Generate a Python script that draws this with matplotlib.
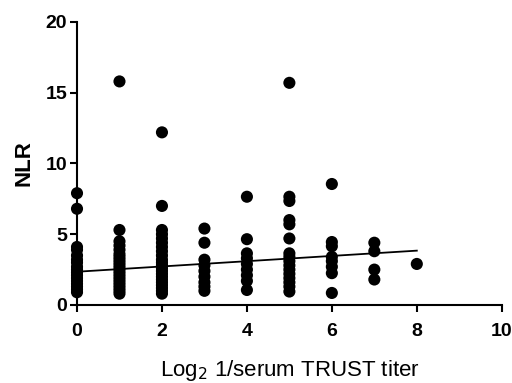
import matplotlib
matplotlib.use("Agg")
import matplotlib.pyplot as plt

plt.rcParams['font.family'] = ['Liberation Sans', 'DejaVu Sans']

# NLR values per log2 titer column
titer = [0, 1, 2, 3, 4, 5, 6, 7, 8]
nlr = [
    [7.9, 6.8, 4.1, 3.9, 3.5, 3.2, 3.0, 2.7, 2.5, 2.3, 2.1, 1.9, 1.7, 1.5, 1.3, 1.1, 0.9],
    [15.8, 5.3, 4.5, 4.2, 3.9, 3.6, 3.4, 3.2, 3.0, 2.8, 2.6, 2.4, 2.2, 2.0, 1.8, 1.6, 1.4, 1.2, 1.0, 0.8],
    [12.2, 7.0, 5.3, 5.0, 4.7, 4.4, 4.1, 3.8, 3.5, 3.2, 3.0, 2.8, 2.6, 2.4, 2.2, 2.0, 1.8, 1.6, 1.4, 1.2, 1.0, 0.8],
    [5.4, 4.4, 3.2, 2.8, 2.4, 2.0, 1.6, 1.3, 1.0],
    [7.65, 4.65, 3.65, 3.3, 2.9, 2.5, 2.1, 1.7, 1.06],
    [15.7, 7.65, 7.35, 6.0, 5.7, 4.7, 3.65, 3.4, 3.1, 2.8, 2.5, 2.2, 1.9, 1.6, 1.3, 0.95],
    [8.55, 4.45, 4.15, 3.4, 3.1, 2.7, 2.25, 0.85],
    [4.4, 3.8, 2.5, 1.8],
    [2.9],
]
# regression line endpoints
fit_x = [0, 8]
fit_y = [2.35, 3.84]

fig = plt.figure(figsize=(5.12, 3.83), dpi=100)
ax = fig.add_axes([0.1504, 0.2037, 0.8296, 0.7389])

for xv, ys in zip(titer, nlr):
    ax.scatter([xv] * len(ys), ys, s=76, color='black', edgecolors='none', zorder=3, clip_on=False)

ax.plot(fit_x, fit_y, color='black', linewidth=1.3, zorder=4)

ax.set_xlim(0, 10)
ax.set_ylim(0, 20)
ax.set_xticks([0, 2, 4, 6, 8, 10])
ax.set_yticks([0, 5, 10, 15, 20])
for side in ['top', 'right']:
    ax.spines[side].set_visible(False)
for side in ['left', 'bottom']:
    ax.spines[side].set_linewidth(1.5)
ax.tick_params(width=1.5, length=5, labelsize=14)
ax.tick_params(axis='x', pad=8)
ax.tick_params(axis='y', pad=2)
for lab in ax.get_xticklabels() + ax.get_yticklabels():
    lab.set_fontweight('bold')

ax.set_ylabel("NLR", fontsize=16, fontweight='bold', labelpad=8)
ax.set_xlabel("Log$_2$ 1/serum TRUST titer", fontsize=16, labelpad=13)

fig.savefig("out.png", dpi=100)
